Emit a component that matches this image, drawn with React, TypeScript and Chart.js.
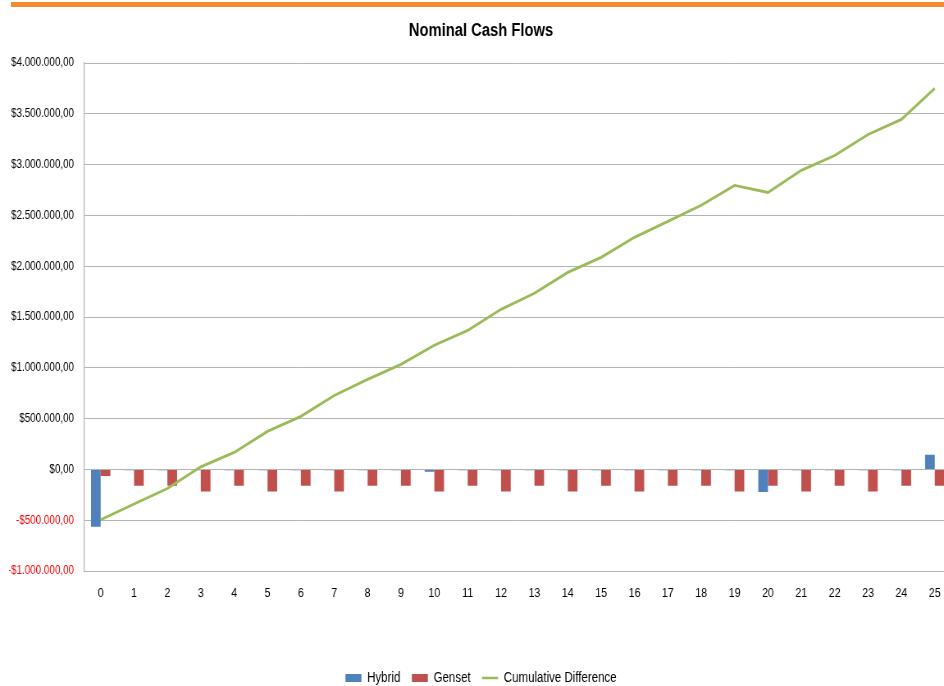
import React, { useEffect, useRef } from 'react';
import { Chart, registerables } from 'chart.js';

Chart.register(...registerables);

// ---- data ----
const years = ['0', '1', '2', '3', '4', '5', '6', '7', '8', '9', '10', '11', '12', '13', '14', '15', '16', '17', '18', '19', '20', '21', '22', '23', '24', '25'];

const hybrid = [
  -565000, -8000, -8000, -8000, -8000, -8000, -8000, -8000, -8000, -8000,
  -22000, -8000, -8000, -8000, -8000, -8000, -8000, -8000, -8000, -8000,
  -222000, -8000, -8000, -8000, -8000, 145000,
];

const genset = [
  -66000, -160000, -160000, -217000, -160000, -217000, -160000, -217000, -160000, -160000,
  -217000, -160000, -217000, -160000, -217000, -160000, -217000, -160000, -160000, -217000,
  -160000, -217000, -160000, -217000, -160000, -160000,
];

const cumulativeDifference = [
  -495000, -340000, -188000, 25000, 167000, 374000, 522000, 728000, 886000, 1034000,
  1222000, 1368000, 1575000, 1733000, 1939000, 2087000, 2284000, 2441000, 2599000, 2795000,
  2726000, 2943000, 3090000, 3297000, 3445000, 3750000,
];

const yMin = -1000000;
const yMax = 4000000;
const yStep = 500000;

const seriesNames = ['Hybrid', 'Genset', 'Cumulative Difference'];
const chartTitle = 'Nominal Cash Flows';

const FONT = '"Liberation Sans", Arial, sans-serif';

// canvas is drawn wider and squeezed horizontally to get narrow text
const CSS_W = 944;
const CANVAS_W = 1151;
const K = CANVAS_W / CSS_W;
const CANVAS_H = 695;

function formatMoney(v: number): string {
  const abs = Math.abs(Math.round(v));
  const s = abs.toString().replace(/\B(?=(\d{3})+(?!\d))/g, '.');
  return (v < 0 ? '-' : '') + '$' + s + ',00';
}

export default function App() {
  const ref = useRef<HTMLCanvasElement>(null);

  useEffect(() => {
    const canvas = ref.current;
    if (!canvas) return;
    const chart = new Chart(canvas, {
      type: 'bar',
      data: {
        labels: years,
        datasets: [
          {
            type: 'bar',
            label: seriesNames[0],
            data: hybrid,
            backgroundColor: '#4F81BD',
            borderWidth: 0,
            categoryPercentage: 0.58,
            barPercentage: 1,
            order: 1,
          },
          {
            type: 'bar',
            label: seriesNames[1],
            data: genset,
            backgroundColor: '#C0504D',
            borderWidth: 0,
            categoryPercentage: 0.58,
            barPercentage: 1,
            order: 1,
          },
          {
            type: 'line',
            label: seriesNames[2],
            data: cumulativeDifference,
            borderColor: '#9BBB59',
            backgroundColor: '#9BBB59',
            borderWidth: 2.8,
            pointRadius: 0,
            pointHoverRadius: 0,
            tension: 0,
            order: 0,
          },
        ] as any,
      },
      options: {
        responsive: false,
        animation: false,
        layout: { padding: 0 },
        plugins: {
          title: {
            display: true,
            text: chartTitle,
            color: '#000',
            font: { family: FONT, size: 18, weight: 'bold' },
            padding: { top: 20, bottom: 21.4 },
          },
          legend: {
            position: 'bottom',
            labels: {
              color: '#000',
              font: { family: FONT, size: 14 },
              usePointStyle: true,
              pointStyleWidth: 16 * K,
              boxWidth: 16 * K,
              boxHeight: 8,
              padding: 14,
              generateLabels: (c: any) =>
                c.data.datasets.map((ds: any, i: number) => {
                  const isLine = ds.type === 'line';
                  const col = isLine ? ds.borderColor : ds.backgroundColor;
                  return {
                    text: ds.label,
                    fillStyle: col,
                    strokeStyle: col,
                    lineWidth: isLine ? 2.5 : 0,
                    pointStyle: isLine ? 'line' : 'rect',
                    hidden: false,
                    datasetIndex: i,
                    fontColor: '#000',
                  };
                }),
              sort: (a: any, b: any) => a.datasetIndex - b.datasetIndex,
            },
          },
          tooltip: { enabled: false },
        },
        scales: {
          x: {
            grid: { display: false, drawTicks: false },
            border: { display: true, color: '#B3B3B3' },
            ticks: {
              color: '#000',
              font: { family: FONT, size: 13 },
              padding: 15,
              maxRotation: 0,
              autoSkip: false,
            },
            afterFit: (s: any) => {
              s.height = 86;
            },
          },
          y: {
            min: yMin,
            max: yMax,
            ticks: {
              stepSize: yStep,
              callback: (v: any) => formatMoney(Number(v)),
              color: (c: any) => (c.tick && c.tick.value < 0 ? '#FF0000' : '#000'),
              font: { family: FONT, size: 12 },
              padding: 10 * K,
            },
            grid: { color: '#B3B3B3', drawTicks: false },
            border: { display: true, color: '#B3B3B3', width: 1.2 },
            afterFit: (s: any) => {
              s.width = 75 * K;
            },
          },
        },
      } as any,
    });
    return () => chart.destroy();
  }, []);

  return (
    <div
      style={{
        position: 'fixed',
        left: 0,
        top: 0,
        width: 944,
        height: 686,
        overflow: 'hidden',
        background: '#fff',
      }}
    >
      <div
        style={{
          position: 'absolute',
          left: 11,
          top: 2,
          width: 933,
          height: 5,
          background: '#F58A2E',
        }}
      />
      <canvas
        ref={ref}
        width={CANVAS_W}
        height={CANVAS_H}
        style={{ position: 'absolute', left: 9, top: 0, width: CSS_W, height: CANVAS_H }}
      />
    </div>
  );
}
